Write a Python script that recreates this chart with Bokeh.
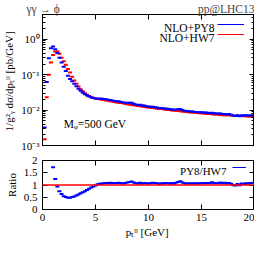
from bokeh.plotting import figure
from bokeh.layouts import column
from bokeh.models import (Label, Legend, LegendItem, LinearAxis, LogAxis, FixedTicker,
                          LogTicker, CustomJSTickFormatter, CustomLabelingPolicy, Span,
                          Range1d, ColumnDataSource)
from bokeh.embed import file_html
from bokeh.resources import INLINE

# ---------------- data ----------------
pt = [0.2, 0.4, 0.6, 0.8, 1.0, 1.2, 1.4, 1.6, 1.8, 2.0,
      2.2, 2.4, 2.6, 2.8, 3.0, 3.2, 3.4, 3.6, 3.8, 4.0,
      4.2, 4.4, 4.6, 4.8, 5.0, 5.2, 5.4, 5.6, 5.8, 6.0,
      6.2, 6.4, 6.6, 6.8, 7.0, 7.2, 7.4, 7.6, 7.8, 8.0,
      8.2, 8.4, 8.6, 8.8, 9.0, 9.2, 9.4, 9.6, 9.8, 10.0,
      10.2, 10.4, 10.6, 10.8, 11.0, 11.2, 11.4, 11.6, 11.8, 12.0,
      12.2, 12.4, 12.6, 12.8, 13.0, 13.2, 13.4, 13.6, 13.8, 14.0,
      14.2, 14.4, 14.6, 14.8, 15.0, 15.2, 15.4, 15.6, 15.8, 16.0,
      16.2, 16.4, 16.6, 16.8, 17.0, 17.2, 17.4, 17.6, 17.8, 18.0,
      18.2, 18.4, 18.6, 18.8, 19.0, 19.2, 19.4, 19.6, 19.8, 20.0]

nlo_py8 = [0.0032, 0.062, 0.29, 0.56, 0.62, 0.52, 0.41, 0.30, 0.22, 0.166,
           0.126, 0.093, 0.076, 0.065, 0.055, 0.047, 0.040, 0.035, 0.031, 0.028,
           0.026, 0.024, 0.0228, 0.0219, 0.0213, 0.0210, 0.0211, 0.0209, 0.0205, 0.0202,
           0.0196, 0.0194, 0.0188, 0.0181, 0.0178, 0.0177, 0.0169, 0.0164, 0.0162, 0.0162,
           0.0161, 0.0160, 0.0151, 0.0143, 0.0139, 0.0141, 0.0134, 0.0134, 0.0129, 0.0126,
           0.0125, 0.0124, 0.0121, 0.0118, 0.0112, 0.0114, 0.0111, 0.0111, 0.0109, 0.0106,
           0.0106, 0.0102, 0.0104, 0.0105, 0.0107, 0.0100, 0.0096, 0.0094, 0.0093, 0.0091,
           0.0091, 0.0089, 0.0089, 0.0087, 0.0087, 0.0086, 0.0085, 0.0084, 0.0082, 0.0084,
           0.0081, 0.0080, 0.0080, 0.0080, 0.0077, 0.0078, 0.0075, 0.0077, 0.0074, 0.0069,
           0.0068, 0.0072, 0.0067, 0.0072, 0.0070, 0.0072, 0.0069, 0.0071, 0.0070, 0.0072]

nlo_hw7 = [0.0015, 0.023, 0.10, 0.22, 0.36, 0.45, 0.45, 0.39, 0.30, 0.24,
           0.19, 0.145, 0.115, 0.087, 0.068, 0.055, 0.046, 0.039, 0.034, 0.030,
           0.027, 0.025, 0.0235, 0.0222, 0.0213, 0.0205, 0.0201, 0.0197, 0.0192, 0.0187,
           0.0183, 0.0178, 0.0174, 0.0169, 0.0165, 0.0162, 0.0158, 0.0155, 0.0150, 0.0147,
           0.0144, 0.0140, 0.0137, 0.0134, 0.0131, 0.0129, 0.0126, 0.0124, 0.0121, 0.0119,
           0.0117, 0.0114, 0.0112, 0.0110, 0.0108, 0.0107, 0.0105, 0.0103, 0.0102, 0.0100,
           0.0098, 0.0097, 0.0095, 0.0094, 0.0093, 0.0091, 0.0090, 0.0089, 0.0087, 0.0086,
           0.0085, 0.0084, 0.0083, 0.0082, 0.0081, 0.0080, 0.0079, 0.0078, 0.0077, 0.0076,
           0.0075, 0.0075, 0.0074, 0.0073, 0.0072, 0.0072, 0.0071, 0.0071, 0.0070, 0.0070,
           0.0069, 0.0069, 0.0068, 0.0068, 0.0067, 0.0067, 0.0066, 0.0066, 0.0065, 0.0065]

ratio_py8_hw7 = [2.13, 2.70, 2.90, 2.55, 1.72, 1.25, 0.94, 0.75, 0.63, 0.54,
                 0.51, 0.48, 0.48, 0.51, 0.53, 0.57, 0.61, 0.66, 0.70, 0.75,
                 0.80, 0.85, 0.90, 0.94, 0.98, 1.03, 1.05, 1.06, 1.07, 1.08,
                 1.07, 1.09, 1.08, 1.07, 1.08, 1.09, 1.07, 1.06, 1.08, 1.10,
                 1.12, 1.14, 1.10, 1.07, 1.06, 1.09, 1.06, 1.08, 1.07, 1.06,
                 1.07, 1.09, 1.08, 1.07, 1.04, 1.07, 1.06, 1.08, 1.07, 1.06,
                 1.08, 1.05, 1.09, 1.12, 1.15, 1.10, 1.07, 1.06, 1.07, 1.06,
                 1.07, 1.06, 1.07, 1.06, 1.07, 1.08, 1.07, 1.08, 1.07, 1.11,
                 1.08, 1.07, 1.08, 1.10, 1.07, 1.09, 1.06, 1.08, 1.05, 0.99,
                 0.98, 1.04, 0.99, 1.06, 1.04, 1.07, 1.05, 1.08, 1.07, 1.10]

x_ticks = [0, 5, 10, 15, 20]
ratio_ticks = [0, 0.5, 1, 1.5, 2]

BLUE = "#0000ff"
RED = "#ff0000"
FONT = "Liberation Serif"

src = ColumnDataSource(dict(pt=pt, py8=nlo_py8, hw7=nlo_hw7, ratio=ratio_py8_hw7))


def style(ax, labels=True, standoff=4):
    ax.major_tick_in = 5
    ax.major_tick_out = 0
    ax.minor_tick_in = 3
    ax.minor_tick_out = 0
    ax.axis_line_color = "black"
    ax.major_tick_line_color = "black"
    ax.minor_tick_line_color = "black"
    ax.major_label_text_font = FONT
    ax.major_label_text_color = "black"
    ax.axis_label_text_font = FONT
    ax.axis_label_text_font_style = "normal"
    ax.axis_label_text_font_size = "11px"
    ax.axis_label_text_color = "black"
    if labels:
        ax.major_label_text_font_size = "11px"
        ax.major_label_standoff = standoff
    else:
        ax.formatter = CustomJSTickFormatter(code="return '';")
        ax.major_label_text_font_size = "1px"
        ax.major_label_standoff = 0
        ax.major_label_policy = CustomLabelingPolicy(code="return new Set();")


log_fmt = CustomJSTickFormatter(code="""
const e = Math.round(Math.log10(tick));
const sup = {'-':'\u207b','0':'\u2070','1':'\u00b9','2':'\u00b2','3':'\u00b3','4':'\u2074'};
return '10' + String(e).split('').map(c => sup[c]).join('');
""")
plain_fmt = CustomJSTickFormatter(code="return String(tick);")

# ---------------- top panel ----------------
p1 = figure(width=254, height=152, x_range=Range1d(0, 20), y_range=Range1d(1e-3, 5),
            y_axis_type="log", output_backend="svg", toolbar_location=None,
            min_border_left=40, min_border_right=0, min_border_top=14, min_border_bottom=7)
p1.grid.visible = False
p1.outline_line_color = "black"
p1.background_fill_color = "white"
p1.border_fill_color = "white"

p1.title.text = "\u03b3\u03b3 \u2192 \u03d5" + "\u2003" * 12 + "pp@LHC13"
p1.title.align = "right"
p1.title.text_font = FONT
p1.title.text_font_style = "normal"
p1.title.text_font_size = "11.5px"
p1.title.standoff = 0
p1.title.offset = 0

p1.xaxis.ticker = FixedTicker(ticks=x_ticks, minor_ticks=[])
style(p1.xaxis[0], labels=False)
p1.yaxis.ticker = LogTicker(num_minor_ticks=10)
p1.yaxis.formatter = log_fmt
style(p1.yaxis[0], labels=True, standoff=3)
p1.yaxis.axis_label = "1/g\u00b2\u1d67 d\u03c3/dp\u209c\u02e1\u02e1  [pb/GeV]"
p1.yaxis.axis_label_standoff = 3

top_ax = LinearAxis(ticker=FixedTicker(ticks=x_ticks, minor_ticks=[]))
style(top_ax, labels=False)
p1.add_layout(top_ax, "above")
right_ax = LogAxis(ticker=LogTicker(num_minor_ticks=10))
style(right_ax, labels=False)
p1.add_layout(right_ax, "right")

p1.scatter("pt", "hw7", source=src, marker="dash", size=4, line_width=2, line_color=RED)
p1.scatter("pt", "py8", source=src, marker="dash", size=4, line_width=2, line_color=BLUE)

# legend: text on the left (labels), line sample on the right (legend glyphs)
leg_b = p1.line("pt", "py8", source=src, line_color=BLUE, line_width=1, visible=False)
leg_r = p1.line("pt", "hw7", source=src, line_color=RED, line_width=1, visible=False)
legend1 = Legend(items=[LegendItem(label=" ", renderers=[leg_b]),
                        LegendItem(label=" ", renderers=[leg_r])],
                 location=(175, 106), glyph_width=27, glyph_height=10,
                 label_height=10, label_width=1, label_standoff=0,
                 label_text_font_size="6px", padding=0, margin=0, spacing=0,
                 border_line_color=None, background_fill_alpha=0,
                 inactive_fill_alpha=0, click_policy="none")
p1.add_layout(legend1)

for txt, yy in (("NLO+PY8", 117.5), ("NLO+HW7", 108)):
    p1.add_layout(Label(x=172, y=yy, x_units="screen", y_units="screen", text=txt,
                        text_font=FONT, text_font_size="11.5px", text_align="right",
                        text_baseline="alphabetic", text_color="black"))

p1.add_layout(Label(x=2.0, y=0.0041, text="M\u1d69=500 GeV", text_font=FONT,
                    text_font_size="11.5px", text_align="left", text_baseline="alphabetic",
                    text_color="black"))

# ---------------- ratio panel ----------------
p2 = figure(width=254, height=88, x_range=Range1d(0, 20), y_range=Range1d(0, 2),
            output_backend="svg", toolbar_location=None,
            min_border_left=40, min_border_right=0, min_border_top=8, min_border_bottom=28)
p2.grid.visible = False
p2.outline_line_color = "black"
p2.background_fill_color = "white"
p2.border_fill_color = "white"

p2.xaxis.ticker = FixedTicker(ticks=x_ticks, minor_ticks=[])
p2.xaxis.formatter = plain_fmt
style(p2.xaxis[0], labels=True, standoff=4)
p2.xaxis.axis_label = "p\u209c\u02e1\u02e1  [GeV]"
p2.xaxis.axis_label_standoff = 2
p2.yaxis.ticker = FixedTicker(ticks=ratio_ticks, minor_ticks=[])
p2.yaxis.formatter = plain_fmt
style(p2.yaxis[0], labels=True, standoff=5)
p2.yaxis.axis_label = "Ratio"
p2.yaxis.axis_label_standoff = 3

top_ax2 = LinearAxis(ticker=FixedTicker(ticks=x_ticks, minor_ticks=[]))
style(top_ax2, labels=False)
p2.add_layout(top_ax2, "above")
right_ax2 = LinearAxis(ticker=FixedTicker(ticks=ratio_ticks, minor_ticks=[]))
style(right_ax2, labels=False)
p2.add_layout(right_ax2, "right")

p2.add_layout(Span(location=1, dimension="width", line_color=RED, line_width=1.3))
p2.scatter("pt", "ratio", source=src, marker="dash", size=4, line_width=2, line_color=BLUE)

leg_rb = p2.line("pt", "ratio", source=src, line_color=BLUE, line_width=1, visible=False)
legend2 = Legend(items=[LegendItem(label=" ", renderers=[leg_rb])],
                 location=(190, 37), glyph_width=14, glyph_height=10,
                 label_height=10, label_width=1, label_standoff=0,
                 label_text_font_size="6px", padding=0, margin=0, spacing=0,
                 border_line_color=None, background_fill_alpha=0,
                 inactive_fill_alpha=0, click_policy="none")
p2.add_layout(legend2)
p2.add_layout(Label(x=184, y=38.7, x_units="screen", y_units="screen", text="PY8/HW7",
                    text_font=FONT, text_font_size="11px", text_align="right",
                    text_baseline="alphabetic", text_color="black"))

layout = column(p1, p2)
open("out.html", "w").write(file_html(layout, INLINE))
